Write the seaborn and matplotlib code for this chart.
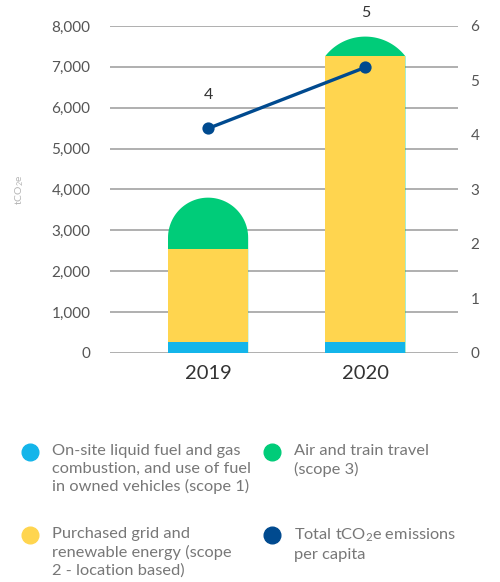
import numpy as np
import matplotlib
matplotlib.use("Agg")
import matplotlib.pyplot as plt
import seaborn as sns
from matplotlib.path import Path
from matplotlib.patches import PathPatch
from matplotlib.lines import Line2D

# data
years = ["2019", "2020"]
scope1 = [270, 280]          # on-site fuel (blue)
scope2 = [2270, 6980]        # purchased grid energy (yellow)
scope3 = [1260, 480]         # air and train travel (green)
per_capita = [4.12, 5.24]    # total tCO2e per capita (right axis)
per_capita_labels = ["4", "5"]

c_blue = "#14b5ea"
c_yellow = "#ffd54f"
c_green = "#00cc79"
c_navy = "#004a8f"

sns.set_style("white")
plt.rcParams["font.family"] = ["Lato", "DejaVu Sans"]
plt.rcParams["mathtext.fontset"] = "custom"
plt.rcParams["mathtext.rm"] = "Lato"
plt.rcParams["mathtext.it"] = "Lato"


def rounded_top(x0, w, top, base, sx, sy):
    # bar from 0 to top with a circular cap (circle in pixel space)
    a = w * sx / 2.0
    h_seg = (top - base) * sy
    cx = x0 + w / 2.0
    if h_seg >= a:
        t = np.linspace(0, np.pi, 60)
        xs = cx + a * np.cos(t) / sx
        ys = top - a / sy + a * np.sin(t) / sy
    else:
        R = (h_seg ** 2 + a ** 2) / (2 * h_seg)
        t0 = np.arcsin((R - h_seg) / R)
        t = np.linspace(t0, np.pi - t0, 60)
        xs = cx + R * np.cos(t) / sx
        ys = top - R / sy + R * np.sin(t) / sy
    verts = [(x0 + w, 0)] + list(zip(xs, ys)) + [(x0, 0), (x0 + w, 0)]
    codes = [Path.MOVETO] + [Path.LINETO] * (len(verts) - 2) + [Path.CLOSEPOLY]
    return Path(verts, codes)


def main():
    fig = plt.figure(figsize=(5.0, 5.82), dpi=100)
    ax = fig.add_axes([0.22, 0.3935, 0.696, 0.5619])

    tot = np.array(scope1) + np.array(scope2) + np.array(scope3)
    s12 = np.array(scope1) + np.array(scope2)

    # cumulative overlay trick for stacked bars
    sns.barplot(x=years, y=tot, color=c_green, width=0.51, saturation=1, ax=ax)
    n_green = len(ax.patches)
    sns.barplot(x=years, y=s12, color=c_yellow, width=0.51, saturation=1, ax=ax)
    sns.barplot(x=years, y=scope1, color=c_blue, width=0.51, saturation=1, ax=ax)

    ax.set_xlim(-0.624, 1.59)
    ax.set_ylim(0, 8000)
    ax.set_yticks(range(0, 8001, 1000))
    ax.set_yticklabels([f"{v:,}" for v in range(0, 8001, 1000)])

    # swap green rectangles for rounded-top shapes
    bbox = ax.get_window_extent()
    sx = bbox.width / (ax.get_xlim()[1] - ax.get_xlim()[0])
    sy = bbox.height / (ax.get_ylim()[1] - ax.get_ylim()[0])
    green = list(ax.patches[:n_green])
    for p, base in zip(green, s12):
        path = rounded_top(p.get_x(), p.get_width(), p.get_height(), base, sx, sy)
        ax.add_patch(PathPatch(path, facecolor=c_green, edgecolor="none", zorder=0.9))
        p.remove()
    for p in ax.patches:
        p.set_edgecolor("none")

    ax.set_axisbelow(True)
    ax.grid(axis="y", color="#9a9a9a", linewidth=1.1)
    ax.grid(axis="x", visible=False)
    sns.despine(ax=ax, left=True, bottom=True, right=True, top=True)
    ax.tick_params(axis="y", length=0, pad=14, labelsize=11, labelcolor="#555555")
    ax.tick_params(axis="x", length=0, pad=9, labelsize=14.5, labelcolor="#333333")
    ax.set_xlabel("")
    ax.set_ylabel("tCO$_2$e", fontsize=7.5, color="#b5b5b5")
    ax.yaxis.set_label_coords(-0.24, 0.5)

    # per capita line on right axis
    ax2 = ax.twinx()
    sns.pointplot(x=years, y=per_capita, color=c_navy, markers="o",
                  linestyles="-", ax=ax2, markersize=7, linewidth=2.4)
    ax2.set_xlim(-0.624, 1.59)
    ax2.set_ylim(0, 6)
    ax2.set_yticks(range(0, 7))
    ax2.grid(False)
    sns.despine(ax=ax2, left=True, bottom=True, right=True, top=True)
    ax2.tick_params(axis="y", length=0, pad=9, labelsize=11, labelcolor="#555555")
    ax2.set_ylabel("")
    for i, (v, lab) in enumerate(zip(per_capita, per_capita_labels)):
        off = 24 if i == 0 else 39
        ax2.annotate(lab, (i, v), xytext=(0, off), textcoords="offset points",
                     ha="center", va="center", fontsize=11.5, color="#333333")

    # legend laid out by hand (2 columns, top-aligned entries)
    entries = [
        (c_blue, "On-site liquid fuel and gas\ncombustion, and use of fuel\nin owned vehicles (scope 1)", 30, 452),
        (c_yellow, "Purchased grid and\nrenewable energy (scope\n2 - location based)", 30, 535),
        (c_green, "Air and train travel\n(scope 3)", 272, 452),
        (c_navy, "Total tCO$_2$e emissions\nper capita", 272, 535),
    ]
    W, H = 500, 582
    for col, text, px, py in entries:
        fig.add_artist(Line2D([px / W], [1 - py / H], marker="o", markersize=12,
                              color=col, linestyle="none", transform=fig.transFigure))
        fig.text((px + 22) / W, 1 - (py - 8) / H, text, ha="left", va="top",
                 fontsize=11.8, color="#777777", linespacing=1.32)

    fig.savefig("out.png", dpi=100)


if __name__ == "__main__":
    main()
